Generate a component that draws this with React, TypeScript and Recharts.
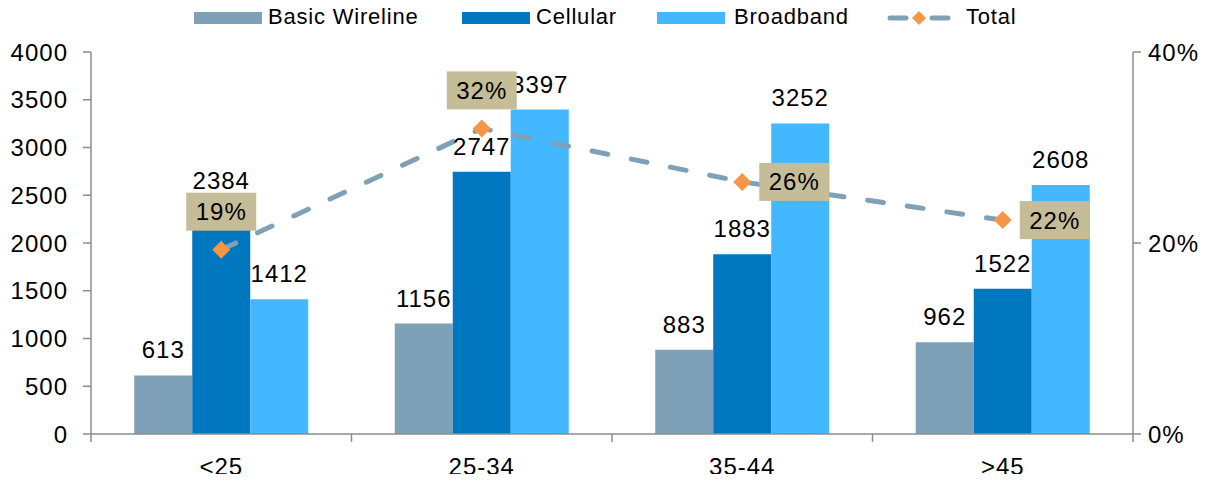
import React from 'react';
import {
  ComposedChart,
  Bar,
  Line,
  XAxis,
  YAxis,
  LabelList,
} from 'recharts';

// ---------- data ----------
const categories = ['<25', '25-34', '35-44', '>45'];
const basicWireline = [613, 1156, 883, 962];
const cellular = [2384, 2747, 1883, 1522];
const broadband = [1412, 3397, 3252, 2608];
const totalPct = [19.3, 32.0, 26.4, 22.4];
const leftTicks = [0, 500, 1000, 1500, 2000, 2500, 3000, 3500, 4000];
const rightTicks = [0, 20, 40];
const seriesNames = ['Basic Wireline', 'Cellular', 'Broadband', 'Total'];

const data = categories.map((c, i) => ({
  cat: c,
  basic: basicWireline[i],
  cellular: cellular[i],
  broadband: broadband[i],
  total: totalPct[i],
}));

// ---------- style ----------
const FONT = '"Liberation Sans", Arial, sans-serif';
const AXIS = '#8C8C8C';
const C_BASIC = '#7FA1B7';
const C_CELL = '#0077BF';
const C_BROAD = '#43B7FF';
const C_LINE = '#7FA1B7';
const C_MARK = '#F79646';
const C_BOX = '#C4BD97';

const LeftTick = (props: any) => {
  const { x, y, payload } = props;
  return (
    <text x={x} y={y} dy="0.355em" textAnchor="end" fontFamily={FONT} fontSize={24} letterSpacing={1} fill="#000">
      {payload.value}
    </text>
  );
};

const RightTick = (props: any) => {
  const { x, y, payload } = props;
  return (
    <text x={x} y={y} dy="0.355em" textAnchor="start" fontFamily={FONT} fontSize={24} letterSpacing={1} fill="#000">
      {payload.value + '%'}
    </text>
  );
};

const BottomTick = (props: any) => {
  const { x, y, payload, index } = props;
  const half = payload && payload.offset ? payload.offset : 0;
  const last = index === categories.length - 1;
  return (
    <g>
      <line x1={x - half} y1={y} x2={x - half} y2={y + 8} stroke={AXIS} strokeWidth={1.5} />
      {last && <line x1={x + half} y1={y} x2={x + half} y2={y + 8} stroke={AXIS} strokeWidth={1.5} />}
      <text x={x} y={y + 41} textAnchor="middle" fontFamily={FONT} fontSize={24} letterSpacing={1} fill="#000">
        {payload.value}
      </text>
    </g>
  );
};

const BarValueLabel = (props: any) => {
  const { x, y, width, value } = props;
  return (
    <text x={x + width / 2} y={y - 17} textAnchor="middle" fontFamily={FONT} fontSize={24} letterSpacing={1} fill="#000">
      {value}
    </text>
  );
};

const PctLabel = (props: any) => {
  const { x, y, value, index } = props;
  const w = 70;
  const h = 38;
  let bx: number;
  let by: number;
  if (index < 2) {
    bx = x - w / 2;
    by = y - 19 - h;
  } else {
    bx = x + 17;
    by = y - h / 2;
  }
  return (
    <g>
      <rect x={bx} y={by} width={w} height={h} fill={C_BOX} />
      <text x={bx + w / 2} y={by + h / 2} dy="0.355em" textAnchor="middle" fontFamily={FONT} fontSize={24} letterSpacing={1} fill="#000">
        {Math.round(value) + '%'}
      </text>
    </g>
  );
};

const Diamond = (props: any) => {
  const { cx, cy, index } = props;
  const r = 9;
  return (
    <path
      key={'d' + index}
      d={`M${cx},${cy - r} L${cx + r},${cy} L${cx},${cy + r} L${cx - r},${cy} Z`}
      fill={C_MARK}
    />
  );
};

const LegendOverlay = () => {
  const textStyle: React.CSSProperties = {
    position: 'absolute',
    top: 5,
    fontFamily: FONT,
    fontSize: 22,
    lineHeight: '24px',
    letterSpacing: 0.8,
    color: '#000',
    whiteSpace: 'nowrap',
  };
  const rect = (left: number, color: string) => (
    <div style={{ position: 'absolute', left, top: 12, width: 68, height: 12, background: color }} />
  );
  return (
    <>
      {rect(194, C_BASIC)}
      <div style={{ ...textStyle, left: 268 }}>{seriesNames[0]}</div>
      {rect(462, C_CELL)}
      <div style={{ ...textStyle, left: 536 }}>{seriesNames[1]}</div>
      {rect(657, C_BROAD)}
      <div style={{ ...textStyle, left: 734 }}>{seriesNames[2]}</div>
      <svg style={{ position: 'absolute', left: 886, top: 11 }} width={68} height={14}>
        <line x1={4} y1={7} x2={20} y2={7} stroke={C_LINE} strokeWidth={5} strokeLinecap="round" />
        <line x1={46} y1={7} x2={62} y2={7} stroke={C_LINE} strokeWidth={5} strokeLinecap="round" />
        <path d="M33,0 L40,7 L33,14 L26,7 Z" fill={C_MARK} />
      </svg>
      <div style={{ ...textStyle, left: 966 }}>{seriesNames[3]}</div>
    </>
  );
};

export default function App() {
  return (
    <div style={{ position: 'relative', margin: -8, width: 1222, height: 482, background: '#fff' }}>
      <LegendOverlay />
      <ComposedChart
        width={1222}
        height={482}
        data={data}
        margin={{ top: 52, right: 0, bottom: 0, left: 0 }}
        barCategoryGap="16.6%"
        barGap={0}
      >
        <XAxis
          dataKey="cat"
          tickLine={false}
          axisLine={{ stroke: AXIS, strokeWidth: 1.5 }}
          tick={<BottomTick />}
          tickSize={0}
          tickMargin={0}
          height={48}
          interval={0}
        />
        <YAxis
          yAxisId="left"
          domain={[0, 4000]}
          ticks={leftTicks}
          width={91}
          tickSize={8}
          tickMargin={15}
          axisLine={{ stroke: AXIS, strokeWidth: 1.5 }}
          tickLine={{ stroke: AXIS, strokeWidth: 1.5 }}
          tick={<LeftTick />}
          interval={0}
        />
        <YAxis
          yAxisId="pct"
          orientation="right"
          domain={[0, 40]}
          ticks={rightTicks}
          width={89}
          tickSize={8}
          tickMargin={7}
          axisLine={{ stroke: AXIS, strokeWidth: 1.5 }}
          tickLine={{ stroke: AXIS, strokeWidth: 1.5 }}
          tick={<RightTick />}
          interval={0}
        />
        <Bar yAxisId="left" dataKey="basic" fill={C_BASIC} isAnimationActive={false}>
          <LabelList dataKey="basic" content={<BarValueLabel />} />
        </Bar>
        <Bar yAxisId="left" dataKey="cellular" fill={C_CELL} isAnimationActive={false}>
          <LabelList dataKey="cellular" content={<BarValueLabel />} />
        </Bar>
        <Bar yAxisId="left" dataKey="broadband" fill={C_BROAD} isAnimationActive={false}>
          <LabelList dataKey="broadband" content={<BarValueLabel />} />
        </Bar>
        <Line
          yAxisId="pct"
          dataKey="total"
          stroke={C_LINE}
          strokeWidth={5}
          strokeDasharray="16 24"
          strokeLinecap="round"
          dot={<Diamond />}
          activeDot={false}
          isAnimationActive={false}
        >
          <LabelList dataKey="total" content={<PctLabel />} />
        </Line>
      </ComposedChart>
    </div>
  );
}
